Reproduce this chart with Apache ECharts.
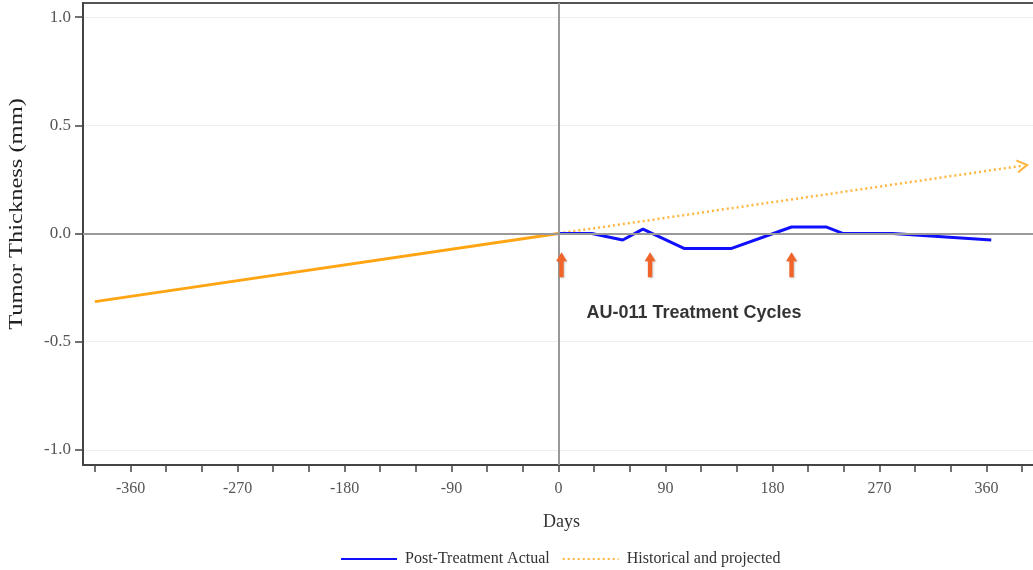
<!DOCTYPE html>
<html>
<head>
<meta charset="utf-8">
<script src="https://cdn.jsdelivr.net/npm/echarts@6/dist/echarts.min.js"></script>
<style>
html, body { margin: 0; padding: 0; background: #fff; overflow: hidden; }
#chart { width: 1040px; height: 570px; }
</style>
</head>
<body>
<div id="chart"></div>
<script>
// ---- data ----
const historicalDays = [-390, 0];
const historicalValues = [-0.315, 0];
const projectedDays = [0, 390];
const projectedValues = [0, 0.313];
const actualDays = [0, 28, 54, 71, 106, 145, 196, 225, 239, 281, 364];
const actualValues = [0, 0, -0.03, 0.02, -0.07, -0.07, 0.03, 0.03, 0, 0, -0.03];
const cycleDays = [2.5, 77, 196];
const cycleArrowValues = [-0.145, -0.145, -0.145];
const annotationPoint = [114, -0.368];
const annotationText = 'AU-011 Treatment Cycles';
const yAxisTitle = 'Tumor Thickness (mm)';
const xTickValues = [-390, -360, -330, -300, -270, -240, -210, -180, -150, -120, -90, -60, -30, 0, 30, 60, 90, 120, 150, 180, 210, 240, 270, 300, 330, 360, 390];
const xLabelValues = [-360, -270, -180, -90, 0, 90, 180, 270, 360];
const yTickValues = [-1.0, -0.5, 0.0, 0.5, 1.0];
const seriesNames = ['Post-Treatment Actual', 'Historical and projected'];

const zip = (xs, ys) => xs.map((x, i) => [x, ys[i]]);

const serif = 'Liberation Serif';
const projData = zip(projectedDays, projectedValues).map((p, i, arr) =>
  i === arr.length - 1
    ? { value: p, symbol: 'path://M0,0 L10,5 L0,10', symbolSize: [10, 12], symbolRotate: 8,
        itemStyle: { color: 'rgba(0,0,0,0)', borderColor: '#ffb640', borderWidth: 2 } }
    : { value: p, symbol: 'none' });

const chart = echarts.init(document.getElementById('chart'), null, { renderer: 'canvas' });
chart.setOption({
  animation: false,
  backgroundColor: '#ffffff',
  grid: { left: 83, right: 0, top: 3, bottom: 105, show: true, borderColor: '#555', borderWidth: 2 },
  legend: {
    left: 340, top: 551, padding: 0,
    itemWidth: 56, itemHeight: 14, itemGap: 12,
    itemStyle: { opacity: 0 },
    textStyle: { fontFamily: serif, fontSize: 16, color: '#333', padding: [0, 0, 0, 3] },
    data: seriesNames
  },
  graphic: [{
    type: 'text', x: 17, y: 214, rotation: Math.PI / 2, scaleX: 1.36, silent: true,
    style: { text: yAxisTitle, align: 'center', verticalAlign: 'middle',
      fontFamily: serif, fontSize: 18, fill: '#222' }
  }],
  xAxis: {
    type: 'value', min: -400, max: 405,
    name: 'Days', nameLocation: 'middle', nameGap: 48,
    nameTextStyle: { fontFamily: serif, fontSize: 18, color: '#333' },
    axisLine: { show: true, onZero: false, lineStyle: { color: '#444', width: 2 } },
    axisTick: { show: true, length: 7, customValues: xTickValues, lineStyle: { color: '#444', width: 1.5 } },
    axisLabel: { customValues: xLabelValues, margin: 16, fontFamily: serif, fontSize: 16, color: '#555' },
    splitLine: { show: false }
  },
  yAxis: {
    type: 'value', min: -1.07, max: 1.065,
    axisLine: { show: true, onZero: false, lineStyle: { color: '#444', width: 2 } },
    axisTick: { show: true, length: 8, customValues: yTickValues, lineStyle: { color: '#444', width: 1.5 } },
    axisLabel: { customValues: yTickValues, margin: 12, fontFamily: serif, fontSize: 17, color: '#555',
      formatter: v => v.toFixed(1) },
    splitLine: { show: true, lineStyle: { color: '#eeeeee', width: 1 } }
  },
  series: [
    {
      name: seriesNames[1], type: 'line', data: projData, symbol: 'none',
      lineStyle: { color: '#ffb640', width: 2.5, type: [2, 3] },
      itemStyle: { color: '#ffb640' }, z: 3
    },
    {
      name: seriesNames[1], type: 'line', data: zip(historicalDays, historicalValues), symbol: 'none',
      lineStyle: { color: '#ffa514', width: 3 }, itemStyle: { color: '#ffa514' }, z: 3
    },
    {
      name: seriesNames[0], type: 'line', data: zip(actualDays, actualValues), symbol: 'none',
      lineStyle: { color: '#1010ff', width: 3 }, itemStyle: { color: '#1010ff' }, z: 4
    },
    {
      name: 'cycles', type: 'scatter', data: zip(cycleDays, cycleArrowValues),
      symbol: 'path://M5,0 L10,9 L7,9 L7,25 L3,25 L3,9 L0,9 Z', symbolSize: [11, 25],
      itemStyle: { color: '#f0642a', opacity: 1, shadowBlur: 2, shadowColor: 'rgba(0,0,0,0.2)', shadowOffsetX: 1, shadowOffsetY: 1 },
      silent: true, z: 5,
      markLine: {
        silent: true, symbol: 'none', label: { show: false },
        lineStyle: { color: '#999', width: 2, type: 'solid' },
        data: [{ yAxis: 0 }, { xAxis: 0 }]
      }
    },
    {
      name: 'annotation', type: 'scatter', data: [annotationPoint], symbolSize: 0, silent: true,
      label: { show: true, position: 'inside', formatter: annotationText,
        fontFamily: 'Liberation Sans', fontWeight: 'bold', fontSize: 18, color: '#000' }
    }
  ]
});
</script>
</body>
</html>
